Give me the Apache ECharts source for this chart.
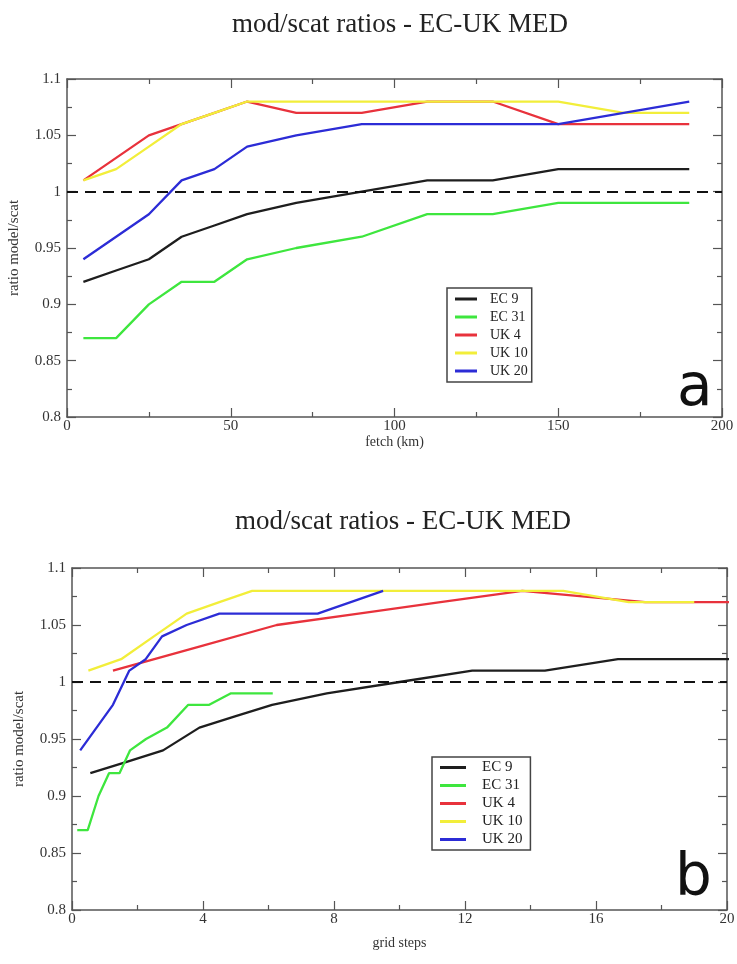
<!DOCTYPE html>
<html><head><meta charset="utf-8">
<script src="https://cdn.jsdelivr.net/npm/echarts@6/dist/echarts.min.js"></script>
<style>html,body{margin:0;padding:0;background:#fff}#c{width:737px;height:964px}</style>
</head><body><div id="c"></div><script>
const seriesNames = ['EC 9', 'EC 31', 'UK 4', 'UK 10', 'UK 20'];
const lineColors = ['#1e1e1e', '#3ee63e', '#e8323c', '#f2ee3a', '#2c2cd6'];
const titleText = 'mod/scat ratios - EC-UK MED';

// panel a : fetch (km)
const fetchA = [5, 15, 25, 35, 45, 55, 70, 90, 110, 130, 150, 190];
const fetchA_UK10 = [5, 15, 25, 35, 45, 55, 70, 90, 110, 130, 150, 170, 190];
const ec9A  = [0.92, 0.93, 0.94, 0.96, 0.97, 0.98, 0.99, 1.00, 1.01, 1.01, 1.02, 1.02];
const ec31A = [0.87, 0.87, 0.90, 0.92, 0.92, 0.94, 0.95, 0.96, 0.98, 0.98, 0.99, 0.99];
const uk4A  = [1.01, 1.03, 1.05, 1.06, 1.07, 1.08, 1.07, 1.07, 1.08, 1.08, 1.06, 1.06];
const uk10A = [1.01, 1.02, 1.04, 1.06, 1.07, 1.08, 1.08, 1.08, 1.08, 1.08, 1.08, 1.07, 1.07];
const uk20A = [0.94, 0.96, 0.98, 1.01, 1.02, 1.04, 1.05, 1.06, 1.06, 1.06, 1.06, 1.08];

// panel b : grid steps
const stepsEC9  = [0.56, 1.67, 2.78, 3.89, 5.0, 6.11, 7.78, 10.0, 12.22, 14.44, 16.67, 21.1];
const stepsEC31 = [0.16, 0.48, 0.81, 1.13, 1.45, 1.77, 2.26, 2.9, 3.55, 4.19, 4.84, 6.13];
const stepsUK4  = [1.25, 3.75, 6.25, 8.75, 11.25, 13.75, 17.5, 22.5, 27.5, 32.5, 37.5, 47.5];
const stepsUK10 = [0.5, 1.5, 2.5, 3.5, 4.5, 5.5, 7.0, 9.0, 11.0, 13.0, 15.0, 17.0, 19.0];
const stepsUK20 = [0.25, 0.75, 1.25, 1.75, 2.25, 2.75, 3.5, 4.5, 5.5, 6.5, 7.5, 9.5];
const ec9B  = [0.92, 0.93, 0.94, 0.96, 0.97, 0.98, 0.99, 1.00, 1.01, 1.01, 1.02, 1.02];
const ec31B = [0.87, 0.87, 0.90, 0.92, 0.92, 0.94, 0.95, 0.96, 0.98, 0.98, 0.99, 0.99];
const uk4B  = [1.01, 1.03, 1.05, 1.06, 1.07, 1.08, 1.07, 1.07, 1.08, 1.08, 1.06, 1.06];
const uk10B = [1.01, 1.02, 1.04, 1.06, 1.07, 1.08, 1.08, 1.08, 1.08, 1.08, 1.08, 1.07, 1.07];
const uk20B = [0.94, 0.96, 0.98, 1.01, 1.02, 1.04, 1.05, 1.06, 1.06, 1.06, 1.06, 1.08];

const refRatio = 1.0;

const zip = (xs, ys) => xs.map((x, i) => [x, ys[i]]);
const SERIF = '"Liberation Serif", "DejaVu Serif", serif';
const axisColor = '#555';

function xAxes(grid, max, interval, name, nameGap) {
  const base = {
    type: 'value', gridIndex: grid, min: 0, max: max, interval: interval,
    axisLine: { show: true, onZero: false, lineStyle: { color: axisColor, width: 1.5 } },
    axisTick: { show: true, inside: true, length: 9, lineStyle: { color: axisColor, width: 1.2 } },
    minorTick: { show: true, splitNumber: 2, length: 5, lineStyle: { color: axisColor, width: 1.2 } },
    splitLine: { show: false }, minorSplitLine: { show: false }
  };
  return [
    Object.assign({}, base, {
      position: 'bottom',
      axisLabel: { fontFamily: SERIF, fontSize: 15, color: '#333', margin: 2 },
      name: name, nameLocation: 'middle', nameGap: nameGap,
      nameTextStyle: { fontFamily: SERIF, fontSize: 14, color: '#333' }
    }),
    Object.assign({}, base, { position: 'top', axisLabel: { show: false } })
  ];
}
function yAxes(grid) {
  const base = {
    type: 'value', gridIndex: grid, min: 0.8, max: 1.1, interval: 0.05,
    axisLine: { show: true, onZero: false, lineStyle: { color: axisColor, width: 1.5 } },
    axisTick: { show: true, inside: true, length: 9, lineStyle: { color: axisColor, width: 1.2 } },
    minorTick: { show: true, splitNumber: 2, length: 5, lineStyle: { color: axisColor, width: 1.2 } },
    splitLine: { show: false }, minorSplitLine: { show: false }
  };
  return [
    Object.assign({}, base, {
      position: 'left',
      axisLabel: { fontFamily: SERIF, fontSize: 15, color: '#333', margin: 6 },
      name: 'ratio model/scat', nameLocation: 'middle', nameGap: 45, nameRotate: 90,
      nameTextStyle: { fontFamily: SERIF, fontSize: 15, color: '#333' }
    }),
    Object.assign({}, base, { position: 'right', axisLabel: { show: false } })
  ];
}

function lineSeries(name, idx, data, xi, yi, withRef) {
  const s = {
    name: name, type: 'line', xAxisIndex: xi, yAxisIndex: yi, data: data,
    symbol: 'none', clip: true, silent: true,
    lineStyle: { color: lineColors[idx], width: 2.3 }, itemStyle: { color: lineColors[idx] }
  };
  if (withRef) {
    s.markLine = {
      silent: true, symbol: ['none', 'none'], label: { show: false },
      lineStyle: { type: [11, 7], color: '#111', width: 2 },
      data: [{ yAxis: refRatio }]
    };
  }
  return s;
}

const panelA = [zip(fetchA, ec9A), zip(fetchA, ec31A), zip(fetchA, uk4A), zip(fetchA_UK10, uk10A), zip(fetchA, uk20A)];
const panelB = [zip(stepsEC9, ec9B), zip(stepsEC31, ec31B), zip(stepsUK4, uk4B), zip(stepsUK10, uk10B), zip(stepsUK20, uk20B)];

const series = [];
panelA.forEach((d, i) => series.push(lineSeries(seriesNames[i], i, d, 0, 0, i === 0)));
panelB.forEach((d, i) => series.push(lineSeries(seriesNames[i], i, d, 2, 2, i === 0)));

const legendA = {
  orient: 'vertical', data: seriesNames, selectedMode: false, left: 447, top: 288,
  icon: 'rect', itemWidth: 22, itemHeight: 3, itemGap: 4,
  borderColor: '#444', borderWidth: 1.5, padding: [4, 4, 4, 8],
  textStyle: { fontFamily: SERIF, fontSize: 14, color: '#222', padding: [0, 0, 0, 8] }
};
const legendB = {
  orient: 'vertical', data: seriesNames, selectedMode: false, left: 432, top: 757,
  icon: 'rect', itemWidth: 26, itemHeight: 3, itemGap: 3,
  borderColor: '#444', borderWidth: 1.5, padding: [3, 8, 3, 8],
  textStyle: { fontFamily: SERIF, fontSize: 15, color: '#222', padding: [0, 0, 0, 11] }
};

const chart = echarts.init(document.getElementById('c'), null, { renderer: 'canvas' });
chart.setOption({
  animation: false,
  backgroundColor: '#fff',
  title: [
    { text: titleText, left: 395, top: 6, textAlign: 'center',
      textStyle: { fontFamily: SERIF, fontSize: 27, fontWeight: 'normal', color: '#222' } },
    { text: titleText, left: 398, top: 503, textAlign: 'center',
      textStyle: { fontFamily: SERIF, fontSize: 27, fontWeight: 'normal', color: '#222' } },
    { text: 'a', left: 672, top: 356,
      textStyle: { fontFamily: '"DejaVu Sans", sans-serif', fontSize: 58, fontWeight: 'normal', color: '#111' } },
    { text: 'b', left: 670, top: 846,
      textStyle: { fontFamily: '"DejaVu Sans", sans-serif', fontSize: 58, fontWeight: 'normal', color: '#111' } }
  ],
  grid: [
    { left: 67, right: 15, top: 79, height: 338, outerBoundsMode: 'none', containLabel: false },
    { left: 72, right: 10, top: 568, height: 342, outerBoundsMode: 'none', containLabel: false }
  ],
  legend: [legendA, legendB],
  xAxis: [...xAxes(0, 200, 50, 'fetch (km)', 18), ...xAxes(1, 20, 4, 'grid steps', 26)],
  yAxis: [...yAxes(0), ...yAxes(1)],
  series: series
});
</script></body></html>
